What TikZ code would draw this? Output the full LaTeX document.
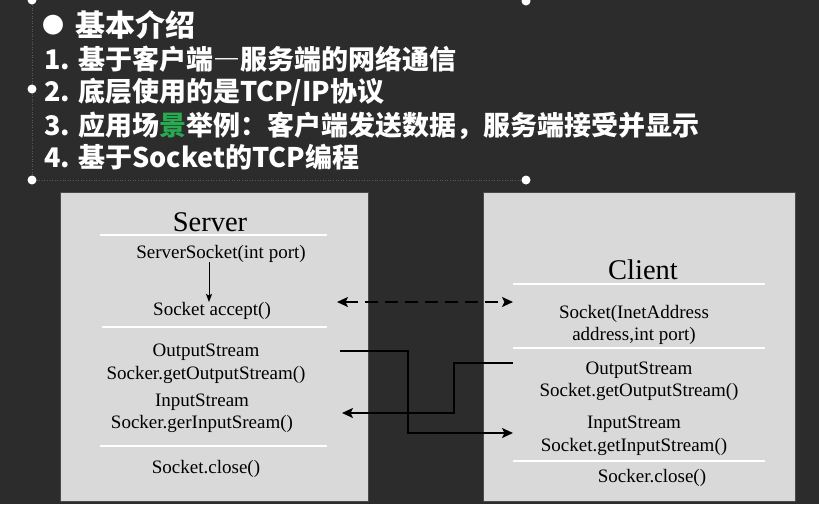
\documentclass[tikz,border=0pt]{standalone}
\usepackage{fontspec}
\setmainfont{Liberation Serif}
\newfontfamily\cjk{Noto Sans CJK SC}
\usetikzlibrary{arrows.meta}
\definecolor{board}{HTML}{2C2C2C}
\definecolor{boxgray}{HTML}{D9D9D9}
\definecolor{boxedge}{HTML}{4A4A4A}
\definecolor{hlgreen}{RGB}{40,170,80}
\definecolor{handle}{HTML}{5A5A5A}
\begin{document}
\begin{tikzpicture}[x=1pt,y=-1pt,
  every node/.style={inner sep=0pt, outer sep=0pt},
  cnline/.style={font=\cjk\bfseries\fontsize{27}{30}\selectfont, text=white, anchor=west},
  cnhead/.style={font=\cjk\bfseries\fontsize{30}{34}\selectfont, text=white},
  lbl/.style={font=\fontsize{19}{22.5}\selectfont, align=center, text=black, yshift=-2pt},
  ttl/.style={font=\fontsize{28.5}{32}\selectfont, text=black},
  sepline/.style={draw=white, line width=1.2pt},
  panel/.style={fill=boxgray, draw=boxedge, line width=0.8pt},
  flow/.style={line width=1.8pt, -{Stealth[length=11pt,width=10pt,inset=2.5pt]}},
  dflow/.style={line width=1.8pt, dash pattern=on 13pt off 7pt, {Stealth[length=11pt,width=10pt,inset=2.5pt]}-{Stealth[length=11pt,width=10pt,inset=2.5pt]}},
  thinflow/.style={line width=1pt, -{Stealth[length=8pt,width=6pt,inset=1.5pt]}},
  handledot/.style={fill=white, draw=none},
  guide/.style={draw=handle, line width=0.6pt, dotted}
]
\useasboundingbox (0,0) rectangle (819,504);
\fill[board] (0,0) rectangle (819,504);

% selection handles of the text box
\draw[guide] (32,0) -- (32,180) -- (526,180);
\fill[handledot] (32,0) circle (4.5);
\fill[handledot] (526,1) circle (4.5);
\fill[handledot] (32,89) circle (4.5);
\fill[handledot] (32,180) circle (4.5);
\fill[handledot] (526,180) circle (4.5);

% heading and list
\node[cnhead, font=\cjk\fontsize{22}{24}\selectfont] (bullet) at (53,25) {●};
\node[cnhead, anchor=west] (head) at (75,25) {基本介绍};
\node[cnline] (l1) at (44,59) {1. 基于客户端{\addfontfeatures{RawFeature=+fwid}—}服务端的网络通信};
\node[cnline] (l2) at (44,92) {2. 底层使用的是TCP/IP协议};
\node[cnline] (l3) at (44,126) {3. 应用场{\color{hlgreen}景}举例：客户端发送数据，服务端接受并显示};
\node[cnline] (l4) at (44,157) {4. 基于Socket的TCP编程};

% panels
\draw[panel] (60,192) rectangle (368,501);
\draw[panel] (483,192) rectangle (795,501);

% server side
\node[ttl] (server) at (210,222) {Server};
\draw[sepline] (100,235) -- (327,235);
\node[lbl] (ss) at (221,252) {ServerSocket(int port)};
\node[lbl] (acc) at (212,309) {Socket accept()};
\draw[sepline] (102,327) -- (327,327);
\node[lbl] (sout) at (206,362) {OutputStream\\Socker.getOutputStream()};
\node[lbl] (sin) at (202,411.5) {InputStream\\Socker.gerInputSream()};
\draw[sepline] (100,446) -- (327,446);
\node[lbl] (sclose) at (206,467) {Socket.close()};

% client side
\node[ttl] (client) at (643,270) {Client};
\draw[sepline] (513,284) -- (765,284);
\node[lbl] (csock) at (634,323) {Socket(InetAddress\\address,int port)};
\draw[sepline] (513,348) -- (765,348);
\node[lbl] (cout) at (639,379.5) {OutputStream\\Socket.getOutputStream()};
\node[lbl] (cin) at (634,434) {InputStream\\Socket.getInputStream()};
\draw[sepline] (513,461) -- (765,461);
\node[lbl] (cclose) at (652,476) {Socker.close()};

% connector end points
\coordinate (accR) at (337,302);
\coordinate (csockL) at (513,302);
\coordinate (soutR) at (340,351);
\coordinate (cinL) at (513,433);
\coordinate (coutL) at (513,363);
\coordinate (sinR) at (342,413);
\coordinate (ax) at (209,0);

% connectors
\draw[thinflow] (ss.center -| ax) ++(0,8) -- ([yshift=9pt]acc.center -| ax);
\draw[dflow] (accR) -- (csockL);
\draw[flow] (soutR) -- (408,351) -- (408,433) -- (cinL);
\draw[flow] (coutL) -- (454,363) -- (454,413) -- (sinR);
\end{tikzpicture}
\end{document}
